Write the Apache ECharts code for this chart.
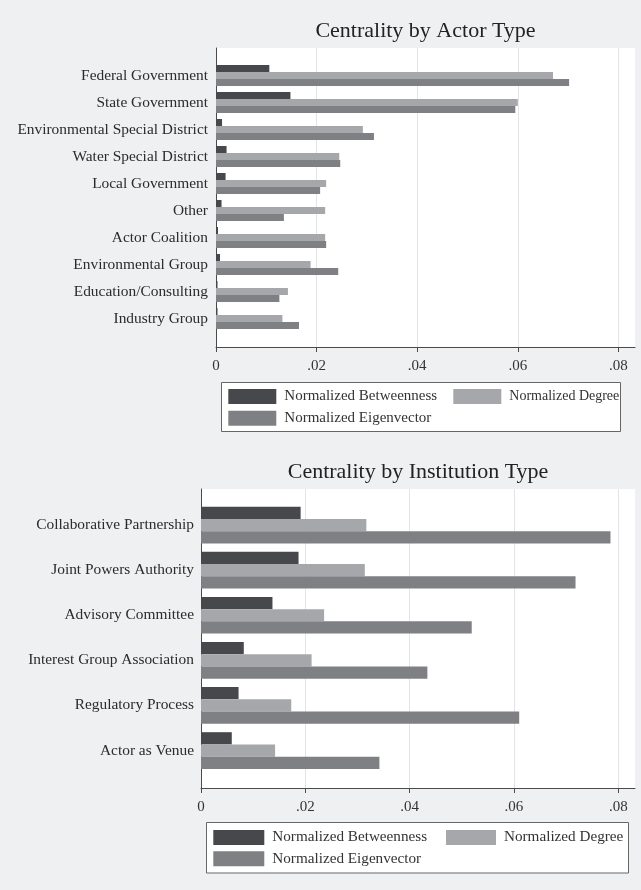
<!DOCTYPE html>
<html>
<head>
<meta charset="utf-8">
<title>Centrality by Actor and Institution Type</title>
<script src="https://cdn.jsdelivr.net/npm/echarts@6/dist/echarts.min.js"></script>
<style>
  html, body { margin: 0; padding: 0; background: #eff0f2; }
  #chart { width: 641px; height: 890px; }
</style>
</head>
<body>
<div id="chart"></div>
<script>
// Actor-type centrality
const actorTypes = [
  'Federal Government', 'State Government', 'Environmental Special District',
  'Water Special District', 'Local Government', 'Other', 'Actor Coalition',
  'Environmental Group', 'Education/Consulting', 'Industry Group'
];
const actorBetweenness = [0.0106, 0.0148, 0.0012, 0.0021, 0.0019, 0.0011, 0.0004, 0.0008, 0.0003, 0.0003];
const actorDegree      = [0.0670, 0.0600, 0.0292, 0.0245, 0.0219, 0.0217, 0.0217, 0.0188, 0.0143, 0.0132];
const actorEigenvector = [0.0702, 0.0595, 0.0314, 0.0247, 0.0207, 0.0135, 0.0219, 0.0243, 0.0126, 0.0165];

// Institution-type centrality
const institutionTypes = [
  'Collaborative Partnership', 'Joint Powers Authority', 'Advisory Committee',
  'Interest Group Association', 'Regulatory Process', 'Actor as Venue'
];
const institutionBetweenness = [0.0191, 0.0187, 0.0137, 0.0082, 0.0072, 0.0059];
const institutionDegree      = [0.0317, 0.0314, 0.0236, 0.0212, 0.0173, 0.0142];
const institutionEigenvector = [0.0785, 0.0718, 0.0519, 0.0434, 0.0610, 0.0342];

// Shared x-axis ticks
const tickValues = [0, 0.02, 0.04, 0.06, 0.08];
const tickLabels = ['0', '.02', '.04', '.06', '.08'];

const seriesNames = ['Normalized Betweenness', 'Normalized Degree', 'Normalized Eigenvector'];
const seriesColors = ['#47484b', '#a6a7aa', '#7f8084'];

const SERIF = '"Liberation Serif", "DejaVu Serif", serif';
const AXIS_COLOR = '#4a4a4a';
const GRID_LINE = '#e3e4e6';

function tickLabel(v) {
  for (let i = 0; i < tickValues.length; i++) {
    if (Math.abs(tickValues[i] - v) < 1e-9) return tickLabels[i];
  }
  return '';
}

// One panel = a background grid (white plot area, gridlines, axes)
// plus an inner grid that holds the bars.
function panel(idx, bg, bars, xMax) {
  const bgGrid = Object.assign({ show: true, backgroundColor: '#ffffff', borderWidth: 0 }, bg);
  const barGrid = Object.assign({ show: false }, bars);
  const bgX = {
    type: 'value', gridIndex: idx * 2, min: 0, max: xMax, interval: 0.02,
    axisLine: { show: true, lineStyle: { color: AXIS_COLOR, width: 1 } },
    axisTick: { show: true, length: 5, customValues: tickValues, lineStyle: { color: AXIS_COLOR } },
    axisLabel: {
      customValues: tickValues, formatter: tickLabel, margin: 12,
      fontFamily: SERIF, fontSize: 15, color: '#333'
    },
    splitLine: { show: true, lineStyle: { color: GRID_LINE, width: 1 } }
  };
  const barX = {
    type: 'value', gridIndex: idx * 2 + 1, min: 0, max: xMax, interval: 0.02,
    axisLine: { show: false }, axisTick: { show: false }, axisLabel: { show: false },
    splitLine: { show: false }
  };
  const bgY = {
    type: 'value', gridIndex: idx * 2, min: 0, max: 1,
    axisLine: { show: true, onZero: false, lineStyle: { color: AXIS_COLOR, width: 1 } },
    axisTick: { show: false }, axisLabel: { show: false }, splitLine: { show: false }
  };
  return { bgGrid, barGrid, bgX, barX, bgY };
}

const actorPanel = panel(0,
  { left: 216, right: 6, top: 48, height: 299 },
  { left: 216, right: 6, top: 62, height: 270 },
  0.0833);
const institutionPanel = panel(1,
  { left: 201, right: 6, top: 489, height: 299 },
  { left: 201, right: 6, top: 502.5, height: 270.6 },
  0.0832);

function catAxis(gridIndex, data, margin) {
  return {
    type: 'category', gridIndex, data, inverse: true,
    axisLine: { show: false }, axisTick: { show: false },
    axisLabel: { margin, fontFamily: SERIF, fontSize: 15.4, color: '#2b2b2b' }
  };
}

function barSeries(xIdx, values, nameIdx, gapPct) {
  return {
    type: 'bar', name: seriesNames[nameIdx], xAxisIndex: xIdx, yAxisIndex: xIdx,
    data: values, barGap: '0%', barCategoryGap: gapPct,
    itemStyle: { color: seriesColors[nameIdx] },
    emphasis: { disabled: true }, animation: false
  };
}

// Single-entry legend, placed by its swatch's top-left corner
function legendItem(nameIdx, left, topPx, itemWidth, fontSize) {
  return {
    left, top: topPx, padding: 0, itemGap: 0, itemWidth, itemHeight: 15,
    icon: 'rect', selectedMode: false, z: 5,
    textStyle: { fontFamily: SERIF, fontSize, color: '#333', padding: [0, 0, 0, 3] },
    data: [seriesNames[nameIdx]]
  };
}

// Legend frames
function frame(x, y, w, h) {
  return {
    type: 'rect', z: 1, silent: true,
    shape: { x, y, width: w, height: h },
    style: { fill: '#ffffff', stroke: '#666666', lineWidth: 1 }
  };
}

const chart = echarts.init(document.getElementById('chart'), null, { renderer: 'canvas' });
chart.setOption({
  backgroundColor: '#eff0f2',
  animation: false,
  color: seriesColors,
  title: [
    { text: 'Centrality by Actor Type', left: 425.5, top: 20.6, textAlign: 'center', padding: 0,
      textStyle: { fontFamily: SERIF, fontSize: 22, fontWeight: 'normal', color: '#222' } },
    { text: 'Centrality by Institution Type', left: 418, top: 461.3, textAlign: 'center', padding: 0,
      textStyle: { fontFamily: SERIF, fontSize: 22, fontWeight: 'normal', color: '#222' } }
  ],
  graphic: [
    frame(221.5, 382.5, 399, 49),
    frame(206.5, 822.5, 422, 50.5)
  ],
  legend: [
    legendItem(0, 228.3, 389, 48, 15),
    legendItem(1, 453.3, 389, 48, 14),
    legendItem(2, 228.3, 410.7, 48, 15),
    legendItem(0, 213.3, 830, 51, 15.2),
    legendItem(1, 446, 830, 50, 15.2),
    legendItem(2, 213.3, 851.3, 51, 15.2)
  ],
  grid: [actorPanel.bgGrid, actorPanel.barGrid, institutionPanel.bgGrid, institutionPanel.barGrid],
  xAxis: [actorPanel.bgX, actorPanel.barX, institutionPanel.bgX, institutionPanel.barX],
  yAxis: [
    actorPanel.bgY, catAxis(1, actorTypes, 8),
    institutionPanel.bgY, catAxis(3, institutionTypes, 7)
  ],
  series: [
    barSeries(1, actorBetweenness, 0, '22%'),
    barSeries(1, actorDegree, 1, '22%'),
    barSeries(1, actorEigenvector, 2, '22%'),
    barSeries(3, institutionBetweenness, 0, '18.6%'),
    barSeries(3, institutionDegree, 1, '18.6%'),
    barSeries(3, institutionEigenvector, 2, '18.6%')
  ]
});
</script>
</body>
</html>
